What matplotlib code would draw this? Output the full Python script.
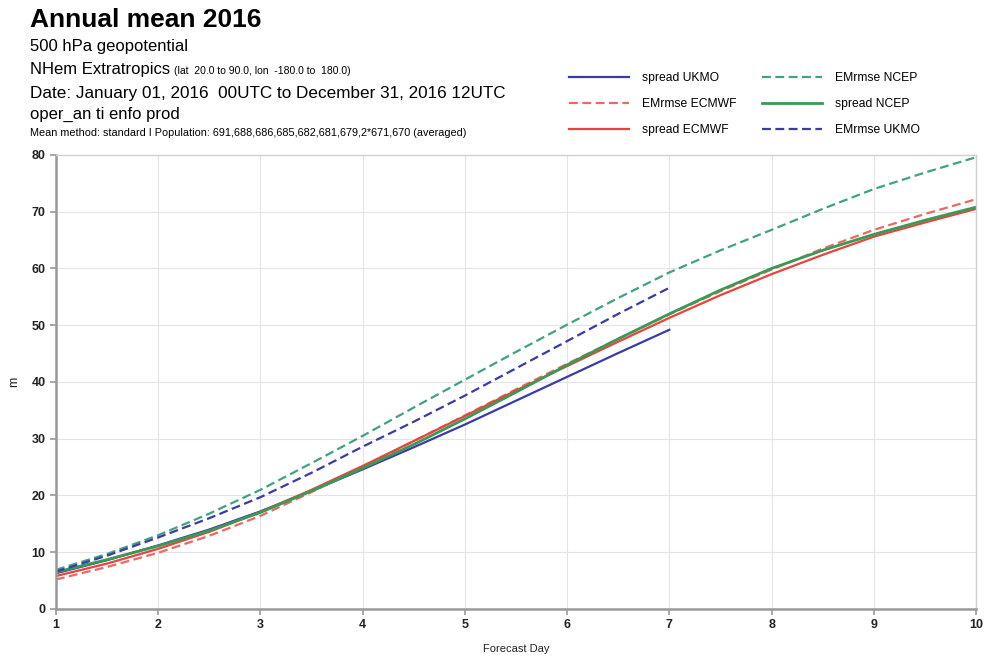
import matplotlib
matplotlib.use("Agg")
import matplotlib.pyplot as plt

plt.rcParams["font.family"] = ["Liberation Sans", "DejaVu Sans"]

# ── Data (12-hourly forecast steps) ──────────────────────

days = [1, 1.5, 2, 2.5, 3, 3.5, 4, 4.5, 5, 5.5, 6, 6.5, 7, 7.5, 8, 8.5, 9, 9.5, 10]
days_ukmo = days[:13]

spread_ukmo = [6.3, 8.6, 11.2, 14.0, 17.2, 20.8, 24.6, 28.5, 32.5, 36.7, 40.9, 45.1, 49.2]
emrmse_ukmo = [6.6, 9.4, 12.6, 16.0, 19.7, 24.0, 28.6, 33.0, 37.6, 42.4, 47.2, 52.0, 56.6]

spread_ecmwf = [5.8, 8.0, 10.6, 13.6, 17.1, 21.0, 25.2, 29.6, 34.0, 38.5, 42.8, 47.1,
                51.3, 55.3, 59.0, 62.4, 65.6, 68.1, 70.5]
emrmse_ecmwf = [5.2, 7.4, 9.9, 12.9, 16.4, 20.6, 25.0, 29.6, 34.1, 38.7, 43.2, 47.6,
                51.9, 56.0, 59.8, 63.5, 66.8, 69.6, 72.2]

spread_ncep = [6.5, 8.7, 11.1, 13.8, 17.0, 20.8, 24.8, 29.0, 33.5, 38.2, 43.0, 47.6,
               52.0, 56.2, 60.0, 63.2, 66.0, 68.5, 70.8]
emrmse_ncep = [6.9, 9.7, 13.0, 16.8, 21.0, 25.7, 30.5, 35.5, 40.4, 45.3, 50.1, 54.8,
               59.3, 63.2, 66.8, 70.5, 74.0, 76.9, 79.6]

BLUE = "#3b3ba6"
RED = "#e8433c"
RED_DASH = "#e86a62"
GREEN = "#3a9a55"
GREEN_DASH = "#40a282"

fig = plt.figure(figsize=(9.87, 6.6), dpi=100)
ax = fig.add_axes([0.0567, 0.0773, 0.9322, 0.6879])

# order follows the legend (column-wise)
h1, = ax.plot(days_ukmo, spread_ukmo, color=BLUE, lw=1.6, label="spread UKMO")
h2, = ax.plot(days, emrmse_ecmwf, color=RED_DASH, lw=1.6, ls=(0, (4, 2)), label="EMrmse ECMWF")
h3, = ax.plot(days, spread_ecmwf, color=RED, lw=1.6, label="spread ECMWF")
h4, = ax.plot(days, emrmse_ncep, color=GREEN_DASH, lw=1.6, ls=(0, (4, 2)), label="EMrmse NCEP")
h5, = ax.plot(days, spread_ncep, color=GREEN, lw=2.0, label="spread NCEP")
h6, = ax.plot(days_ukmo, emrmse_ukmo, color=BLUE, lw=1.6, ls=(0, (4, 2)), label="EMrmse UKMO")

ax.set_xlim(1, 10)
ax.set_ylim(0, 80)
ax.set_xticks(range(1, 11))
ax.set_yticks(range(0, 81, 10))
ax.grid(True, color="#e4e4e4", lw=0.8)
ax.set_axisbelow(True)
ax.tick_params(axis="both", labelsize=9, colors="#999999", labelcolor="#222222",
               length=4, width=1.2)
for lab in ax.get_xticklabels() + ax.get_yticklabels():
    lab.set_fontweight("bold")
for side in ["left", "bottom"]:
    ax.spines[side].set_color("#999999")
    ax.spines[side].set_linewidth(1.8)
for side in ["top", "right"]:
    ax.spines[side].set_color("#d0d0d0")
    ax.spines[side].set_linewidth(1.0)

ax.set_xlabel("Forecast Day", fontsize=8, color="#222222", labelpad=9)
ax.set_ylabel("m", fontsize=9, color="#222222", labelpad=8)

# ── Header text ──────────────────────────────────────────

fig.text(0.030, 0.970, "Annual mean 2016", fontsize=19, fontweight="bold", va="center")
fig.text(0.030, 0.930, "500 hPa geopotential", fontsize=12, va="center")
t = fig.text(0.030, 0.894, "NHem Extratropics ", fontsize=12, va="center")
fig.canvas.draw()
bb = t.get_window_extent()
fig.text(bb.x1 / fig.bbox.width, 0.892, "(lat  20.0 to 90.0, lon  -180.0 to  180.0)",
         fontsize=7.5, va="center")
fig.text(0.030, 0.859, "Date: January 01, 2016  00UTC to December 31, 2016 12UTC",
         fontsize=12.3, va="center")
fig.text(0.030, 0.826, "oper_an ti enfo prod", fontsize=12, va="center")
fig.text(0.030, 0.799,
         "Mean method: standard I Population: 691,688,686,685,682,681,679,2*671,670 (averaged)",
         fontsize=7.8, va="center")

fig.legend(handles=[h1, h2, h3, h4, h5, h6], ncol=2, loc="upper left",
           bbox_to_anchor=(0.565, 0.907), frameon=False, fontsize=8.7,
           handlelength=5.0, handletextpad=1.05, columnspacing=2.1, labelspacing=1.15)

fig.savefig("out.png", dpi=100)
